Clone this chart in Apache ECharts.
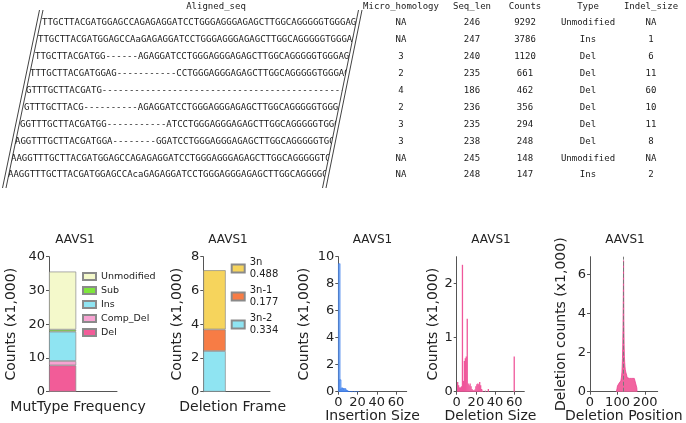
<!DOCTYPE html>
<html><head><meta charset="utf-8">
<script src="https://cdn.jsdelivr.net/npm/echarts@6/dist/echarts.min.js"></script>
<style>html,body{margin:0;padding:0;background:#fff}#c{width:686px;height:423px}</style>
</head><body><div id="c"></div>
<script>
// ---------------- table data ----------------
const tableHeaders = ['Micro_homology', 'Seq_len', 'Counts', 'Type', 'Indel_size'];
const seqHeader = 'Aligned_seq';
const alignedSeqs = [
  'TTGCTTACGATGGAGCCAGAGAGGATCCTGGGAGGGAGAGCTTGGCAGGGGGTGGGAGG',
  'TTGCTTACGATGGAGCCAaGAGAGGATCCTGGGAGGGAGAGCTTGGCAGGGGGTGGGAG',
  'TTGCTTACGATGG------AGAGGATCCTGGGAGGGAGAGCTTGGCAGGGGGTGGGAGG',
  'TTTGCTTACGATGGAG-----------CCTGGGAGGGAGAGCTTGGCAGGGGGTGGGAG',
  'GTTTGCTTACGATG----------------------------------------------',
  'GTTTGCTTACG----------AGAGGATCCTGGGAGGGAGAGCTTGGCAGGGGGTGGGA',
  'GGTTTGCTTACGATGG-----------ATCCTGGGAGGGAGAGCTTGGCAGGGGGTGGG',
  'AGGTTTGCTTACGATGGA--------GGATCCTGGGAGGGAGAGCTTGGCAGGGGGTGG',
  'AAGGTTTGCTTACGATGGAGCCAGAGAGGATCCTGGGAGGGAGAGCTTGGCAGGGGGTGG',
  'AAGGTTTGCTTACGATGGAGCCAcaGAGAGGATCCTGGGAGGGAGAGCTTGGCAGGGGGT'
];
const microHomology = ['NA', 'NA', '3', '2', '4', '2', '3', '3', 'NA', 'NA'];
const seqLens = [246, 247, 240, 235, 186, 236, 235, 238, 245, 248];
const alleleCounts = [9292, 3786, 1120, 661, 462, 356, 294, 248, 148, 147];
const alleleTypes = ['Unmodified', 'Ins', 'Del', 'Del', 'Del', 'Del', 'Del', 'Del', 'Unmodified', 'Ins'];
const indelSizes = ['NA', '1', '6', '11', '60', '10', '11', '8', 'NA', '2'];

// ---------------- chart data ----------------
const panelTitle = 'AAVS1';
const mutTypes = ['Del', 'Comp_Del', 'Ins', 'Sub', 'Unmodified'];
const mutCounts = [7.8, 1.3, 8.7, 0.6, 17.2];
const mutLegendOrder = ['Unmodified', 'Sub', 'Ins', 'Comp_Del', 'Del'];
const mutTicks = [0, 10, 20, 30, 40];

const frameTypes = ['3n-2', '3n-1', '3n'];
const frameCounts = [2.41, 1.28, 3.51];
const frameFractions = ['0.334', '0.177', '0.488'];
const frameLegendOrder = ['3n', '3n-1', '3n-2'];
const frameTicks = [0, 2, 4, 6, 8];

const insSizes = [1, 2, 3, 4, 5, 6, 7, 8, 9, 10, 12, 14, 17, 20];
const insCounts = [9.5, 0.9, 0.2, 0.3, 0.25, 0.2, 0.25, 0.15, 0.1, 0.05, 0.03, 0.02, 0.02, 0.02];
const insYTicks = [0, 2, 4, 6, 8, 10];
const sizeXTicks = [0, 20, 40, 60];

const delSizes = [1, 2, 3, 4, 5, 6, 7, 8, 9, 10, 11, 12, 13, 14, 15, 16, 17, 18, 19, 20, 21, 22, 23, 24, 25, 26, 27, 30, 33, 60];
const delCounts = [0.18, 0.12, 0.08, 0.08, 0.1, 2.35, 0.2, 0.57, 0.62, 0.65, 1.35, 0.15, 0.12, 0.15, 0.1, 0.05, 0.03, 0.02, 0.04, 0.1, 0.14, 0.15, 0.14, 0.18, 0.12, 0.05, 0.02, 0.02, 0.05, 0.65];
const delYTicks = [0, 1, 2];

const delPositions = [96, 97, 98, 99, 100, 101, 102, 103, 104, 105, 106, 107, 108, 109, 110, 111, 112, 113, 114, 115, 116, 117, 118, 119, 120, 121, 122, 123, 124, 125, 126, 127, 128, 129, 130, 131, 132, 133, 134, 135, 136, 137, 138, 139, 140, 141, 142, 143, 144, 145, 146, 147, 148, 149, 150, 151, 152, 153, 154, 155, 156, 157, 158, 159, 160, 161, 162, 163, 164, 165, 166, 167, 168, 169, 170, 171];
const delPosCounts = [0, 0.1, 0.15, 0.2, 0.3, 0.35, 0.38, 0.4, 0.42, 0.42, 0.44, 0.45, 0.47, 0.48, 0.5, 0.52, 0.55, 0.6, 0.7, 0.85, 1.0, 1.3, 1.7, 2.4, 3.3, 4.8, 6.7, 3.6, 2.4, 1.8, 1.5, 1.3, 1.15, 1.05, 1.0, 0.95, 0.9, 0.85, 0.78, 0.72, 0.7, 0.68, 0.7, 0.69, 0.68, 0.7, 0.69, 0.68, 0.7, 0.69, 0.68, 0.7, 0.69, 0.68, 0.7, 0.69, 0.68, 0.7, 0.69, 0.68, 0.7, 0.69, 0.68, 0.7, 0.69, 0.68, 0.7, 0.69, 0.68, 0.7, 0.69, 0.68, 0.7, 0.66, 0.2, 0];
const cutSite = 122;
const posYTicks = [0, 2, 4, 6];
const posXTicks = [0, 100, 200];

// ---------------- styling / layout ----------------
const FONT = 'DejaVu Sans';
const MONO = 'DejaVu Sans Mono';
const TXT = '#222';
const AX = '#555';
const mutColors = {Del: '#f25c98', Comp_Del: '#f7a3d2', Ins: '#8fe4f2', Sub: '#7ee63c', Unmodified: '#f4f9cb'};
const frameColors = {'3n-2': '#8fe4f2', '3n-1': '#f77c45', '3n': '#f6d45c'};

const plotTop = 256.7, plotH = 135;
const panels = [
  {left: 49, width: 68, titleX: 75, xNameShift: 10},
  {left: 203.3, width: 66.7, titleX: 228, xNameShift: 8},
  {left: 338.3, width: 68.4, titleX: 372.5, xNameShift: 0},
  {left: 456.7, width: 67.6, titleX: 491, xNameShift: 0},
  {left: 590, width: 67.7, titleX: 625, xNameShift: 0}
];

const tbl = {headerY: 7, rowY0: 23, rowDy: 16.9, seqHeaderX: 216, colX: [401, 472, 525, 588, 651],
  seqStartX: [42, 38, 35, 30, 26, 24, 20, 15, 11, 8]};
const leftInner = {x0: 43, y0: 10, x1: 6, y1: 188};
const rightInner = {x0: 358.5, y0: 10, x1: 322.5, y1: 188};
const lineGap = 3.5;

function lineX(l, y) { return l.x0 + (l.x1 - l.x0) * (y - l.y0) / (l.y1 - l.y0); }

// ---------------- graphic table ----------------
const gEls = [];
const monoStyle = (text, align) => ({text: text, fontSize: 9, fontFamily: MONO, fill: '#1a1a1a', align: align, verticalAlign: 'middle'});
alignedSeqs.forEach((s, i) => {
  gEls.push({type: 'text', x: tbl.seqStartX[i], y: tbl.rowY0 + i * tbl.rowDy, z: 1, style: monoStyle(s, 'left')});
});
gEls.push({type: 'polygon', z: 2, shape: {points: [[0, 0], [lineX(leftInner, 0), 0], [lineX(leftInner, 192), 192], [0, 192]]}, style: {fill: '#fff'}});
gEls.push({type: 'polygon', z: 2, shape: {points: [[lineX(rightInner, 0), 0], [388, 0], [388, 192], [lineX(rightInner, 192), 192]]}, style: {fill: '#fff'}});
[[leftInner, -lineGap], [leftInner, 0], [rightInner, 0], [rightInner, lineGap]].forEach(([l, d]) => {
  gEls.push({type: 'line', z: 3, shape: {x1: l.x0 + d, y1: l.y0, x2: l.x1 + d, y2: l.y1}, style: {stroke: '#111', lineWidth: 0.8}});
});
gEls.push({type: 'text', x: tbl.seqHeaderX, y: tbl.headerY, z: 4, style: monoStyle(seqHeader, 'center')});
tableHeaders.forEach((h, j) => {
  gEls.push({type: 'text', x: tbl.colX[j], y: tbl.headerY, z: 4, style: monoStyle(h, 'center')});
});
const cols = [microHomology, seqLens, alleleCounts, alleleTypes, indelSizes];
cols.forEach((col, j) => {
  col.forEach((v, i) => {
    gEls.push({type: 'text', x: tbl.colX[j], y: tbl.rowY0 + i * tbl.rowDy, z: 4, style: monoStyle(String(v), 'center')});
  });
});

// ---------------- axes ----------------
const nameStyle = {fontSize: 14, fontFamily: FONT, color: TXT};
const lblStyle = {fontSize: 13, fontFamily: FONT, color: TXT, margin: 4};
function yAx(i, max, ticks, name, gap) {
  return {gridIndex: i, type: 'value', min: 0, max: max, name: name, nameLocation: 'middle', nameGap: gap,
    nameTextStyle: nameStyle, splitLine: {show: false},
    axisLine: {show: true, onZero: false, lineStyle: {color: AX, width: 1}},
    axisTick: {show: true, length: 3, lineStyle: {color: AX}, customValues: ticks},
    axisLabel: Object.assign({}, lblStyle, {customValues: ticks})};
}
function xAxNoLabel(i, min, max, name, gap) {
  return {gridIndex: i, type: 'value', min: min, max: max, name: name, nameLocation: 'middle', nameGap: gap,
    nameTextStyle: Object.assign({}, nameStyle, {padding: [0, panels[i].xNameShift, 0, 0]}), splitLine: {show: false},
    axisLine: {show: true, onZero: false, lineStyle: {color: AX, width: 1}}, axisTick: {show: false}, axisLabel: {show: false}};
}
function xAx(i, max, ticks, name, gap) {
  return {gridIndex: i, type: 'value', min: 0, max: max, name: name, nameLocation: 'middle', nameGap: gap,
    nameTextStyle: nameStyle, splitLine: {show: false},
    axisLine: {show: true, onZero: false, lineStyle: {color: AX, width: 1}},
    axisTick: {show: true, length: 3, lineStyle: {color: AX}, customValues: ticks},
    axisLabel: Object.assign({}, lblStyle, {customValues: ticks})};
}

const series = [];
// value dimension first so the stack accumulates on y
mutTypes.forEach((t, k) => {
  series.push({type: 'bar', name: t, xAxisIndex: 0, yAxisIndex: 0, stack: 'mut', barWidth: 27.2,
    encode: {x: 1, y: 0},
    itemStyle: {color: mutColors[t], borderColor: '#8a8a8a', borderWidth: 0.7},
    data: [[mutCounts[k], 0]]});
});
frameTypes.forEach((t, k) => {
  series.push({type: 'bar', name: t, xAxisIndex: 1, yAxisIndex: 1, stack: 'frame', barWidth: 22.4,
    encode: {x: 1, y: 0},
    itemStyle: {color: frameColors[t], borderColor: '#8a8a8a', borderWidth: 0.7},
    data: [[frameCounts[k], 0]]});
});
series.push({type: 'bar', name: 'Insertion', xAxisIndex: 2, yAxisIndex: 2, barWidth: 2.2,
  itemStyle: {color: '#80b0f6', borderColor: '#2b6fe6', borderWidth: 0.5},
  data: insSizes.map((s, i) => [s, insCounts[i]])});
series.push({type: 'bar', name: 'Deletion', xAxisIndex: 3, yAxisIndex: 3, barWidth: 1.3,
  itemStyle: {color: '#ef579b'},
  data: delSizes.map((s, i) => [s, delCounts[i]])});
series.push({type: 'line', name: 'DelPos', xAxisIndex: 4, yAxisIndex: 4, symbol: 'none',
  lineStyle: {color: '#e8438f', width: 0.8}, areaStyle: {color: '#f2649f', opacity: 1},
  data: delPositions.map((p, i) => [p, delPosCounts[i]]),
  markLine: {silent: true, symbol: 'none', label: {show: false},
    lineStyle: {color: '#7a7a7a', type: 'dashed', width: 1}, data: [{xAxis: cutSite}]}});

const option = {
  backgroundColor: '#fff',
  animation: false,
  textStyle: {fontFamily: FONT},
  title: panels.map(p => ({text: panelTitle, left: p.titleX, top: 234, textAlign: 'center', padding: 0,
    textStyle: {fontSize: 12, fontWeight: 'normal', fontFamily: FONT, color: TXT}})),
  grid: panels.map(p => ({left: p.left, top: plotTop, width: p.width, height: plotH, containLabel: false, outerBoundsMode: 'none'})),
  legend: [
    {data: mutLegendOrder, orient: 'vertical', left: 82, top: 271, itemWidth: 13, itemHeight: 7, itemGap: 3,
      icon: 'rect', selectedMode: false, padding: 0,
      textStyle: {fontSize: 9.5, lineHeight: 11, fontFamily: FONT, color: TXT}},
    {data: frameLegendOrder, orient: 'vertical', left: 230.7, top: 257, itemWidth: 13, itemHeight: 8, itemGap: 5,
      icon: 'rect', selectedMode: false, padding: 0,
      formatter: n => n + '\n' + frameFractions[frameTypes.indexOf(n)],
      textStyle: {fontSize: 10, lineHeight: 11.5, fontFamily: FONT, color: TXT}}
  ],
  xAxis: [
    xAxNoLabel(0, -0.2, 0.8, 'MutType Frequency', 9),
    xAxNoLabel(1, -0.168, 0.832, 'Deletion Frame', 9),
    xAx(2, 71, sizeXTicks, 'Insertion Size', 16),
    xAx(3, 70.5, sizeXTicks, 'Deletion Size', 16),
    xAx(4, 246, posXTicks, 'Deletion Position', 16)
  ],
  yAxis: [
    yAx(0, 40, mutTicks, 'Counts (x1,000)', 31),
    yAx(1, 8, frameTicks, 'Counts (x1,000)', 19),
    yAx(2, 10, insYTicks, 'Counts (x1,000)', 27),
    yAx(3, 2.5, delYTicks, 'Counts (x1,000)', 14),
    yAx(4, 6.9, posYTicks, 'Deletion counts (x1,000)', 22)
  ],
  series: series,
  graphic: {elements: gEls}
};

const chart = echarts.init(document.getElementById('c'), null, {renderer: 'canvas', width: 686, height: 423});
chart.setOption(option);
</script>
</body></html>
